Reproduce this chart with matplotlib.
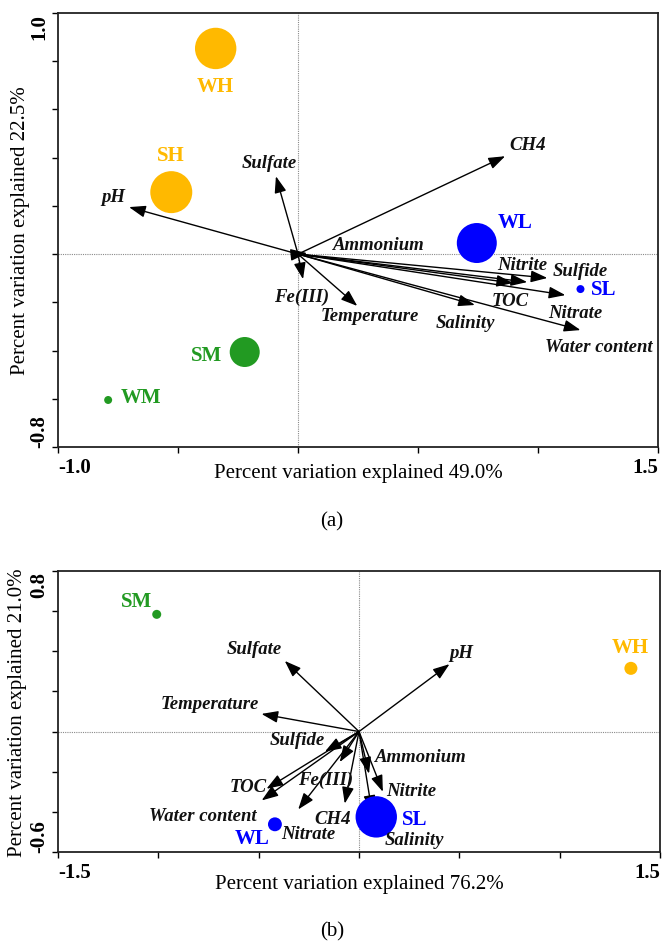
import matplotlib
matplotlib.use('Agg')
import matplotlib.pyplot as plt

plt.rcParams['font.family'] = ['Liberation Serif', 'DejaVu Serif']

# ---------------- Panel (a) data ----------------
a_samples = ['WH', 'SH', 'WL', 'SL', 'SM', 'WM']
a_sample_x = [-0.343, -0.528, 0.745, 1.177, -0.222, -0.791]
a_sample_y = [0.853, 0.257, 0.046, -0.145, -0.406, -0.605]
a_sample_size = [888, 914, 829, 33, 467, 33]

a_vars = ['CH4', 'Sulfate', 'pH', 'Ammonium', 'Fe(III)', 'Temperature',
          'Nitrite', 'Sulfide', 'TOC', 'Nitrate', 'Salinity', 'Water content']
a_var_x = [0.863, -0.092, -0.704, 0.038, 0.021, 0.247,
           0.955, 1.039, 0.896, 1.114, 0.737, 1.177]
a_var_y = [0.406, 0.323, 0.195, 0.004, -0.104, -0.215,
           -0.116, -0.099, -0.120, -0.170, -0.211, -0.315]
a_xlabel = 'Percent variation explained 49.0%'
a_ylabel = 'Percent variation explained 22.5%'

# ---------------- Panel (b) data ----------------
b_samples = ['SM', 'WH', 'WL', 'SL']
b_sample_x = [-1.008, 1.355, -0.419, 0.086]
b_sample_y = [0.584, 0.315, -0.462, -0.425]
b_sample_size = [42, 88, 100, 888]

b_vars = ['pH', 'Sulfate', 'Temperature', 'Sulfide', 'Fe(III)', 'TOC',
          'Water content', 'Nitrate', 'CH4', 'Ammonium', 'Nitrite', 'Salinity']
b_var_x = [0.451, -0.370, -0.486, -0.170, -0.096, -0.461,
           -0.485, -0.303, -0.071, 0.050, 0.119, 0.065]
b_var_y = [0.336, 0.352, 0.088, -0.100, -0.152, -0.285,
           -0.343, -0.388, -0.359, -0.210, -0.300, -0.400]
b_xlabel = 'Percent variation explained 76.2%'
b_ylabel = 'Percent variation explained 21.0%'

# ---------------- styles ----------------
habitat_color = {'H': '#FFB900', 'L': '#0000FF', 'M': '#229A22'}
PX = 0.72  # pixels -> points at dpi 100

# label offsets (pixels: right, up)
a_var_off = {'CH4': (22, 12), 'Sulfate': (-7, 14), 'pH': (-16, 11),
             'Ammonium': (72, 9), 'Fe(III)': (-1, -17), 'Temperature': (13, -10),
             'Nitrite': (-5, 18), 'Sulfide': (33, 7), 'TOC': (-3, -17),
             'Nitrate': (10, -17), 'Salinity': (-9, -18), 'Water content': (18, -16)}
a_samp_off = {'WH': (0, -38), 'SH': (0, 37), 'WL': (38, 21),
              'SL': (23, 0), 'SM': (-38, -3), 'WM': (33, 3)}
b_var_off = {'pH': (12, 12), 'Sulfate': (-30, 12), 'Temperature': (-52, 10),
             'Sulfide': (-28, 12), 'Fe(III)': (-14, -17), 'TOC': (-18, 2),
             'Water content': (-59, -15), 'Nitrate': (10, -24), 'CH4': (-12, -15),
             'Ammonium': (52, 17), 'Nitrite': (28, 1), 'Salinity': (42, -28)}
b_samp_off = {'SM': (-20, 13), 'WH': (-1, 21), 'WL': (-23, -14), 'SL': (38, -2)}


def draw_panel(ax, xlim, ylim, xticks, yticks, samples, sx, sy, ssize,
               vars_, vx, vy, var_off, samp_off, xlabel, ylabel, xlab_y, ylab_x):
    ax.set_xlim(*xlim)
    ax.set_ylim(*ylim)
    ax.axhline(0, color='#8a8a8a', lw=0.8, ls=(0, (1, 1)), zorder=1)
    ax.axvline(0, color='#8a8a8a', lw=0.8, ls=(0, (1, 1)), zorder=1)

    for name, x, y in zip(vars_, vx, vy):
        ax.annotate('', xy=(x, y), xytext=(0, 0),
                    arrowprops=dict(arrowstyle='-|>,head_length=0.5,head_width=0.18',
                                    mutation_scale=20, lw=1.0, color='black',
                                    shrinkA=0, shrinkB=0), zorder=2)
        dx, dy = var_off[name]
        ax.annotate(name, xy=(x, y), xytext=(dx * PX, dy * PX),
                    textcoords='offset points', ha='center', va='center',
                    fontsize=13.5, fontweight='bold', fontstyle='italic',
                    color='#111111', zorder=4)

    cols = [habitat_color[s[1]] for s in samples]
    ax.scatter(sx, sy, s=ssize, c=cols, edgecolors='none', zorder=3)
    for name, x, y, c in zip(samples, sx, sy, cols):
        dx, dy = samp_off[name]
        ax.annotate(name, xy=(x, y), xytext=(dx * PX, dy * PX),
                    textcoords='offset points', ha='center', va='center',
                    fontsize=15, fontweight='bold', color=c, zorder=4)

    ax.set_xticks(xticks)
    ax.set_xticklabels([f'{xticks[0]:.1f}'] + [''] * (len(xticks) - 2) + [f'{xticks[-1]:.1f}'],
                       fontsize=15, fontweight='bold')
    ax.set_yticks(yticks)
    ax.set_yticklabels([f'{yticks[0]:.1f}'] + [''] * (len(yticks) - 2) + [f'{yticks[-1]:.1f}'],
                       fontsize=15, fontweight='bold', rotation=90)
    xl = ax.get_xticklabels()
    xl[0].set_ha('left')
    xl[-1].set_ha('right')
    yl = ax.get_yticklabels()
    yl[0].set_va('bottom')
    yl[-1].set_va('top')
    ax.tick_params(direction='out', length=4, width=1, pad=3)
    ax.tick_params(axis='y', pad=2)
    for sp in ax.spines.values():
        sp.set_linewidth(1.3)
        sp.set_color('#222222')

    ax.text(0.5, xlab_y, xlabel, transform=ax.transAxes, ha='center', va='center',
            fontsize=15)
    ax.text(ylab_x, 0.5, ylabel, transform=ax.transAxes, ha='center', va='center',
            rotation=90, fontsize=15)


fig = plt.figure(figsize=(6.64, 9.45), dpi=100)
ax1 = fig.add_axes([58 / 664, 1 - 448 / 945, 600 / 664, 434 / 945])
ax2 = fig.add_axes([58 / 664, 1 - 853 / 945, 602 / 664, 281 / 945])

draw_panel(ax1, (-1.0, 1.5), (-0.8, 1.0),
           [-1.0, -0.5, 0.0, 0.5, 1.0, 1.5],
           [-0.8, -0.6, -0.4, -0.2, 0.0, 0.2, 0.4, 0.6, 0.8, 1.0],
           a_samples, a_sample_x, a_sample_y, a_sample_size,
           a_vars, a_var_x, a_var_y, a_var_off, a_samp_off,
           a_xlabel, a_ylabel, -26 / 434, -0.062)

draw_panel(ax2, (-1.5, 1.5), (-0.6, 0.8),
           [-1.5, -1.0, -0.5, 0.0, 0.5, 1.0, 1.5],
           [-0.6, -0.4, -0.2, 0.0, 0.2, 0.4, 0.6, 0.8],
           b_samples, b_sample_x, b_sample_y, b_sample_size,
           b_vars, b_var_x, b_var_y, b_var_off, b_samp_off,
           b_xlabel, b_ylabel, -31 / 281, -0.068)

fig.text(0.5, 1 - 522 / 945, '(a)', ha='center', va='center', fontsize=15)
fig.text(0.5, 1 - 932 / 945, '(b)', ha='center', va='center', fontsize=15)

fig.savefig('out.png', dpi=100)
